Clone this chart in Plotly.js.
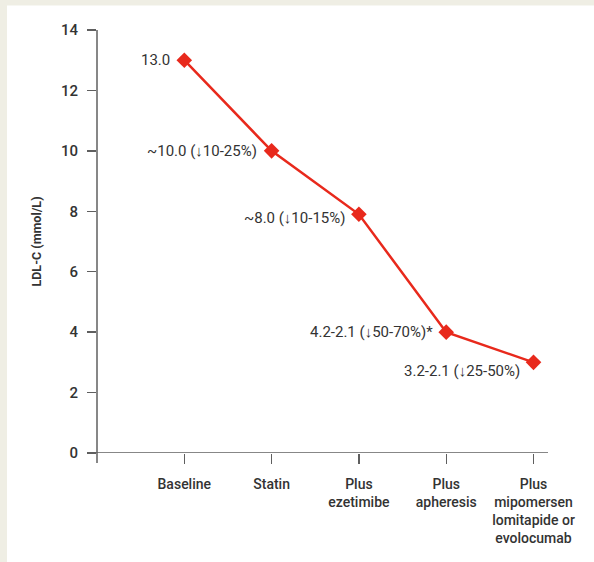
<!DOCTYPE html>
<html>
<head>
<meta charset="utf-8">
<script src="https://cdn.plot.ly/plotly-3.0.1.min.js"></script>
<style>html,body{margin:0;padding:0;background:#efeee4;}</style>
</head>
<body>
<div id="chart" style="width:594px;height:562px;"></div>
<script>
// ---- data ----
var categories = ["Baseline", "Statin", "Plus ezetimibe", "Plus apheresis", "Plus mipomersen lomitapide or evolocumab"];
var tickLabels = ["Baseline", "Statin", "Plus<br>ezetimibe", "Plus<br>apheresis", "Plus<br>mipomersen<br>lomitapide or<br>evolocumab"];
var ldlValues = [13.0, 10.0, 7.9, 4.0, 3.0];
var pointLabels = ["13.0", "~10.0 (\u219310-25%)", "~8.0 (\u219310-15%)", "4.2-2.1 (\u219350-70%)*", "3.2-2.1 (\u219325-50%)"];
var yTicks = [0, 2, 4, 6, 8, 10, 12, 14];

// ---- styles ----
var RED = "#e8291c";
var AXIS = "#5f5f5f";
var TXT = "#333333";
var FONT = "Roboto, Liberation Sans, Arial, sans-serif";
var labelOffsets = [[-12, 0], [-13, 0], [-12, -4], [-11, 0], [-12, -9]];

var trace = {
  x: categories,
  y: ldlValues,
  type: "scatter",
  mode: "lines+markers",
  line: {color: RED, width: 2.5},
  marker: {symbol: "diamond", size: 12, color: RED},
  hoverinfo: "skip",
  cliponaxis: false
};

var annotations = pointLabels.map(function (t, i) {
  return {
    x: categories[i], y: ldlValues[i], xref: "x", yref: "y",
    text: t, showarrow: false, xanchor: "right", yanchor: "middle",
    xshift: labelOffsets[i][0], yshift: labelOffsets[i][1],
    font: {family: FONT, size: 15, color: TXT}
  };
});

var L = 97, R = 46, T = 29.5, B = 109.3;
var W = 594 - L - R, H = 562 - T - B;

var shapes = [
  {type: "rect", xref: "paper", yref: "paper", x0: (7 - L) / W, x1: 1.2, y0: -0.4, y1: (H + T - 5) / H,
   fillcolor: "#ffffff", line: {width: 0}, layer: "below"},
  {type: "line", xref: "paper", yref: "y", x0: -9 / W, x1: 1, y0: 0, y1: 0, line: {color: AXIS, width: 1.5}},
  {type: "line", xref: "paper", yref: "paper", x0: 0, x1: 0, y0: -10 / H, y1: 1, line: {color: AXIS, width: 1.5}}
];

var layout = {
  width: 594, height: 562,
  margin: {l: L, r: R, t: T, b: B, pad: 0},
  paper_bgcolor: "#efeee4",
  plot_bgcolor: "rgba(0,0,0,0)",
  showlegend: false,
  font: {family: FONT, color: TXT},
  xaxis: {
    type: "category",
    range: [-1, 4.166],
    tickvals: categories,
    ticktext: tickLabels,
    showgrid: false, zeroline: false, showline: false,
    ticks: "outside", ticklen: 10, tickwidth: 1.3, tickcolor: AXIS,
    ticklabelstandoff: 8,
    tickfont: {family: FONT, size: 14, color: TXT, weight: 500},
    fixedrange: true
  },
  yaxis: {
    range: [0, 14],
    tickvals: yTicks,
    showgrid: false, zeroline: false, showline: false,
    ticks: "outside", ticklen: 9, tickwidth: 1.3, tickcolor: AXIS,
    ticklabelstandoff: 6,
    tickfont: {family: FONT, size: 15, color: TXT, weight: 500},
    title: {text: "<b>LDL-C (mmol/L)</b>", font: {family: FONT, size: 12.5, color: TXT}, standoff: 16},
    automargin: false,
    fixedrange: true
  },
  shapes: shapes,
  annotations: annotations
};

Plotly.newPlot("chart", [trace], layout, {displayModeBar: false, staticPlot: true});
</script>
</body>
</html>
